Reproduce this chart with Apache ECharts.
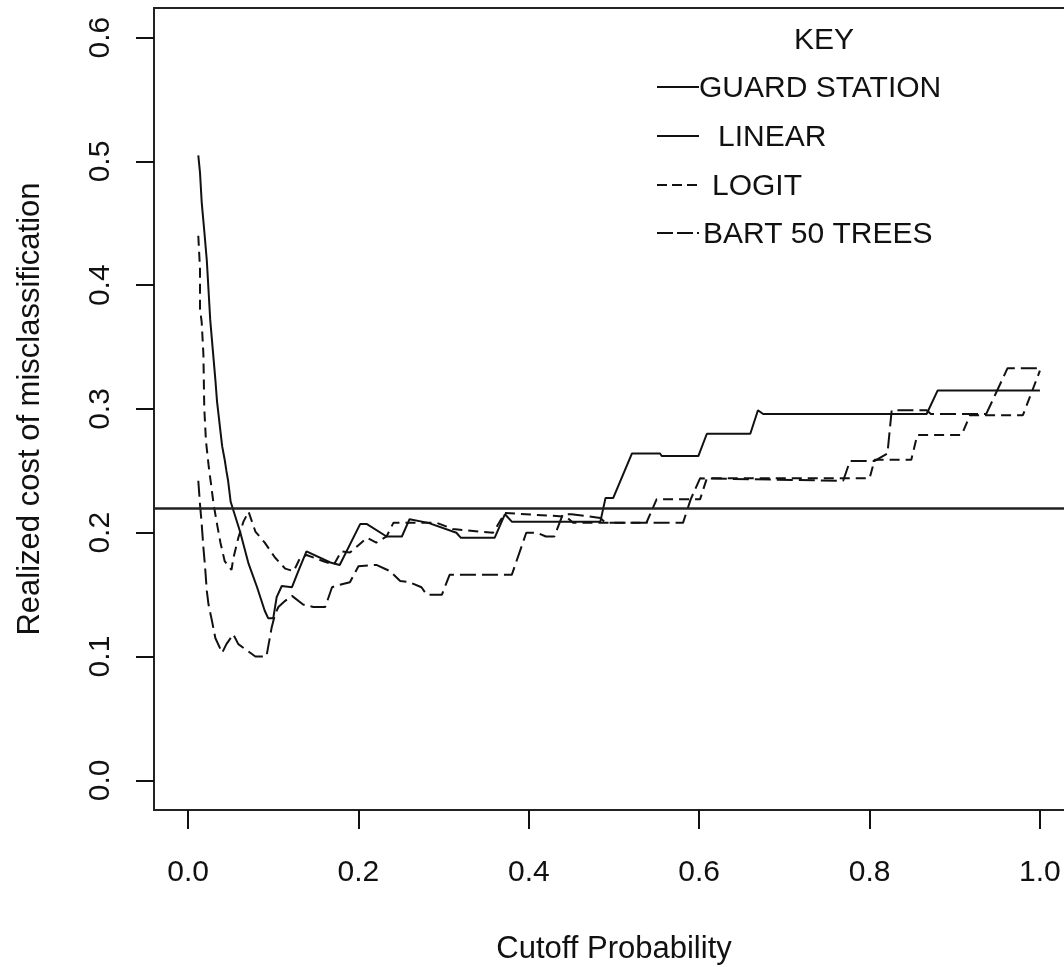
<!DOCTYPE html>
<html>
<head>
<meta charset="utf-8">
<script src="https://cdn.jsdelivr.net/npm/echarts@6/dist/echarts.min.js"></script>
<style>
  html, body { margin: 0; padding: 0; background: #fff; }
  #chart { width: 1064px; height: 967px; }
</style>
</head>
<body>
<div id="chart"></div>
<script>
// tick labels
const xTicks = [0, 0.2, 0.4, 0.6, 0.8, 1.0]
const yTicks = [0, 0.1, 0.2, 0.3, 0.4, 0.5, 0.6]

// guard station reference cost (horizontal line)
const guardStation = 0.222

// [cutoff, cost]
const linearPts = [
  [0.012, 0.505], [0.014, 0.491], [0.016, 0.467], [0.019, 0.444], [0.022, 0.42],
  [0.024, 0.396], [0.026, 0.372], [0.029, 0.348], [0.032, 0.324], [0.034, 0.306],
  [0.036, 0.294], [0.038, 0.282], [0.04, 0.27], [0.043, 0.259], [0.045, 0.25],
  [0.047, 0.242], [0.05, 0.225], [0.061, 0.201], [0.071, 0.175], [0.081, 0.156],
  [0.09, 0.137], [0.094, 0.131], [0.1, 0.131], [0.104, 0.148], [0.11, 0.157],
  [0.122, 0.156], [0.13, 0.17], [0.139, 0.185], [0.167, 0.176], [0.178, 0.174],
  [0.202, 0.207], [0.21, 0.207], [0.233, 0.197], [0.251, 0.197], [0.26, 0.211],
  [0.282, 0.208], [0.315, 0.2], [0.32, 0.196], [0.36, 0.196], [0.372, 0.215],
  [0.38, 0.209], [0.484, 0.209], [0.49, 0.228], [0.499, 0.228], [0.521, 0.264],
  [0.554, 0.264], [0.556, 0.262], [0.599, 0.262], [0.609, 0.28], [0.66, 0.28],
  [0.669, 0.299], [0.675, 0.296], [0.867, 0.296], [0.88, 0.315], [1.0, 0.315]
]

const logitPts = [
  [0.012, 0.44], [0.014, 0.413], [0.014, 0.381], [0.016, 0.37], [0.018, 0.344],
  [0.019, 0.301], [0.021, 0.274], [0.024, 0.255], [0.027, 0.239], [0.03, 0.223],
  [0.034, 0.207], [0.038, 0.192], [0.043, 0.177], [0.051, 0.17], [0.053, 0.179],
  [0.059, 0.196], [0.065, 0.209], [0.071, 0.217], [0.079, 0.201], [0.09, 0.192],
  [0.102, 0.18], [0.114, 0.171], [0.124, 0.169], [0.131, 0.179], [0.139, 0.182],
  [0.159, 0.177], [0.171, 0.174], [0.18, 0.185], [0.19, 0.184], [0.2, 0.19],
  [0.21, 0.196], [0.221, 0.192], [0.233, 0.197], [0.241, 0.208], [0.292, 0.208],
  [0.311, 0.203], [0.358, 0.2], [0.372, 0.216], [0.444, 0.213], [0.452, 0.208],
  [0.538, 0.208], [0.55, 0.227], [0.601, 0.227], [0.609, 0.244], [0.8, 0.244],
  [0.806, 0.259], [0.849, 0.259], [0.856, 0.279], [0.908, 0.279], [0.918, 0.295],
  [0.98, 0.295], [1.0, 0.331]
]

const bartPts = [
  [0.012, 0.242], [0.014, 0.223], [0.016, 0.207], [0.018, 0.188], [0.02, 0.172],
  [0.022, 0.153], [0.024, 0.142], [0.028, 0.129], [0.032, 0.115], [0.04, 0.103],
  [0.045, 0.11], [0.053, 0.118], [0.059, 0.11], [0.069, 0.105], [0.079, 0.1],
  [0.092, 0.1], [0.098, 0.123], [0.102, 0.134], [0.106, 0.14], [0.114, 0.145],
  [0.122, 0.149], [0.135, 0.142], [0.147, 0.14], [0.161, 0.14], [0.169, 0.156],
  [0.178, 0.158], [0.19, 0.16], [0.2, 0.173], [0.221, 0.174], [0.237, 0.169],
  [0.249, 0.161], [0.26, 0.16], [0.274, 0.156], [0.28, 0.15], [0.298, 0.15],
  [0.307, 0.166], [0.38, 0.166], [0.397, 0.2], [0.41, 0.2], [0.42, 0.197],
  [0.43, 0.197], [0.44, 0.215], [0.45, 0.215], [0.484, 0.212], [0.49, 0.208],
  [0.581, 0.208], [0.59, 0.227], [0.601, 0.244], [0.769, 0.242], [0.777, 0.258],
  [0.806, 0.258], [0.821, 0.264], [0.826, 0.299], [0.867, 0.299], [0.872, 0.296],
  [0.937, 0.296], [0.962, 0.333], [1.0, 0.333]
]

const FONT = '"Liberation Sans", Arial, sans-serif'
const INK = '#111'

let chart = echarts.init(document.getElementById('chart'))

// legend drawn by hand, it is laid out like the R "KEY" box
function keyRow(y, textX, label, dash) {
  return [
    {
      type: 'line',
      shape: { x1: 657, y1: y, x2: 699, y2: y },
      style: { stroke: INK, lineWidth: 2, lineDash: dash }
    },
    {
      type: 'text',
      x: textX, y: y + 2,
      style: { text: label, font: '30px ' + FONT, fill: INK, textVerticalAlign: 'middle' }
    }
  ]
}

let option = {
  animation: false,
  backgroundColor: '#fff',
  grid: {
    // plot box runs past the right edge of the page, like the cropped original
    left: 154,
    width: 920,
    top: 8,
    height: 802,
    outerBoundsMode: 'none',
    containLabel: false,
    show: true,
    borderColor: '#222',
    borderWidth: 2,
    backgroundColor: 'transparent'
  },
  xAxis: {
    type: 'value',
    min: -0.04,
    max: 1.04,
    name: 'Cutoff Probability',
    nameLocation: 'middle',
    nameGap: 124,
    nameTextStyle: { fontFamily: FONT, fontSize: 31, color: INK },
    axisLine: { show: false, onZero: false },
    splitLine: { show: false },
    axisTick: {
      show: true, inside: false, length: 19,
      customValues: xTicks,
      lineStyle: { color: INK, width: 2 }
    },
    axisLabel: {
      customValues: xTicks,
      margin: 48,
      fontFamily: FONT, fontSize: 30, color: INK,
      formatter: v => v.toFixed(1)
    }
  },
  yAxis: {
    type: 'value',
    min: -0.024,
    max: 0.624,
    name: 'Realized cost of misclassification',
    nameLocation: 'middle',
    nameGap: 108,
    nameTextStyle: { fontFamily: FONT, fontSize: 31, color: INK },
    axisLine: { show: false, onZero: false },
    splitLine: { show: false },
    axisTick: {
      show: true, inside: false, length: 18,
      customValues: yTicks,
      lineStyle: { color: INK, width: 2 }
    },
    axisLabel: {
      customValues: yTicks,
      rotate: 90,
      margin: 38,
      fontFamily: FONT, fontSize: 30, color: INK,
      formatter: v => v.toFixed(1)
    }
  },
  series: [
    {
      name: 'GUARD STATION',
      type: 'line',
      data: [],
      markLine: {
        silent: true,
        symbol: 'none',
        label: { show: false },
        lineStyle: { color: '#222', width: 2.5, type: 'solid' },
        data: [{ yAxis: guardStation }]
      }
    },
    {
      name: 'LINEAR',
      type: 'line',
      data: linearPts,
      showSymbol: false,
      lineStyle: { color: INK, width: 2, type: 'solid' }
    },
    {
      name: 'LOGIT',
      type: 'line',
      data: logitPts,
      showSymbol: false,
      lineStyle: { color: INK, width: 2, type: [10, 6] }
    },
    {
      name: 'BART 50 TREES',
      type: 'line',
      data: bartPts,
      showSymbol: false,
      lineStyle: { color: INK, width: 2, type: [16, 6] }
    }
  ],
  graphic: [
    {
      type: 'text',
      x: 824, y: 41,
      style: { text: 'KEY', font: '30px ' + FONT, fill: INK, textAlign: 'center', textVerticalAlign: 'middle' }
    },
    ...keyRow(87, 699, 'GUARD STATION', null),
    ...keyRow(136, 718, 'LINEAR', null),
    ...keyRow(185, 712, 'LOGIT', [10, 5]),
    ...keyRow(233, 703, 'BART 50 TREES', [16, 4])
  ]
}

chart.setOption(option)
</script>
</body>
</html>
